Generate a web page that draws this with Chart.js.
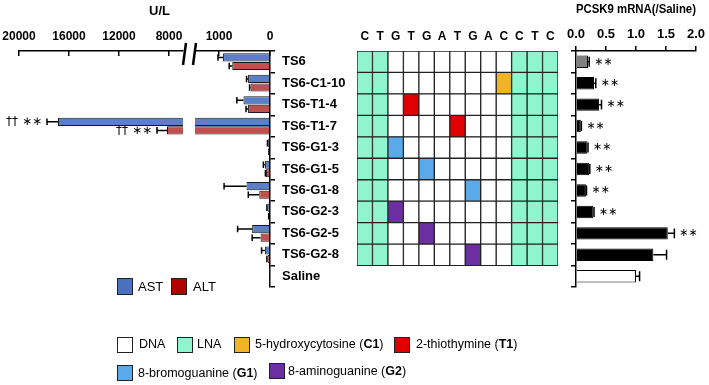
<!DOCTYPE html>
<html>
<head>
<meta charset="utf-8">
<script src="https://cdn.jsdelivr.net/npm/chart.js@4.4.1/dist/chart.umd.min.js"></script>
<style>
  html, body { margin: 0; padding: 0; background: #fff; }
  #wrap { position: relative; width: 709px; height: 385px; overflow: hidden; font-family: "Liberation Sans", Arial, sans-serif; }
  canvas { position: absolute; top: 0; }
  .txt { position: absolute; white-space: nowrap; color: #000; }
  .box { position: absolute; box-sizing: border-box; border: 1.5px solid #222; }
  .lg2 { font-size: 12.5px; line-height: 15px; }
</style>
</head>
<body>
<div id="wrap">
  <canvas id="liverFar" width="192" height="385" style="left:0px"></canvas>
  <canvas id="liverNear" width="175" height="385" style="left:185px"></canvas>
  <canvas id="seqGrid" width="215" height="385" style="left:350px"></canvas>
  <canvas id="mrna" width="149" height="385" style="left:560px"></canvas>

  <div class="txt" style="left:149px;top:3px;font-weight:bold;font-size:13px">U/L</div>

  <!-- AST / ALT -->
  <div class="box" style="left:117px;top:278px;width:16px;height:17px;background:#4a70c0"></div>
  <div class="txt" style="left:138px;top:279px;font-size:13px">AST</div>
  <div class="box" style="left:171px;top:278px;width:16px;height:17px;background:#b00000"></div>
  <div class="txt" style="left:193px;top:279px;font-size:13px">ALT</div>

  <!-- nucleotide legend -->
  <div class="box" style="left:117px;top:337px;width:16px;height:16px;background:#ffffff"></div>
  <div class="txt lg2" style="left:139px;top:337px">DNA</div>
  <div class="box" style="left:177px;top:337px;width:16px;height:16px;background:#8ef5ce"></div>
  <div class="txt lg2" style="left:197px;top:337px">LNA</div>
  <div class="box" style="left:234px;top:337px;width:16px;height:16px;background:#f0b429"></div>
  <div class="txt lg2" style="left:255px;top:337px">5-hydroxycytosine (<b>C1</b>)</div>
  <div class="box" style="left:394px;top:337px;width:16px;height:16px;background:#e00000"></div>
  <div class="txt lg2" style="left:416px;top:337px">2-thiothymine (<b>T1</b>)</div>
  <div class="box" style="left:117px;top:365px;width:16px;height:16px;background:#5aaaea"></div>
  <div class="txt lg2" style="left:138px;top:366px">8-bromoguanine (<b>G1</b>)</div>
  <div class="box" style="left:269px;top:363px;width:16px;height:16px;background:#6b2fa0"></div>
  <div class="txt lg2" style="left:288px;top:364px">8-aminoguanine (<b>G2</b>)</div>
</div>

<script>
// rows (top to bottom)
const rowLabels = ['TS6', 'TS6-C1-10', 'TS6-T1-4', 'TS6-T1-7', 'TS6-G1-3', 'TS6-G1-5',
                   'TS6-G1-8', 'TS6-G2-3', 'TS6-G2-5', 'TS6-G2-8', 'Saline'];

// liver enzymes, U/L
const astMean = [920, 430, 520, 16880, 40, 100, 460, 50, 350, 100, 5];
const astErr  = [100, 30, 130, 880, 10, 30, 440, 10, 285, 65, 0];
const altMean = [740, 380, 430, 8160, 15, 80, 210, 20, 185, 45, 5];
const altErr  = [60, 20, 40, 800, 5, 10, 215, 5, 165, 15, 0];
const astNote = ['', '', '', '†† ∗∗', '', '', '', '', '', '', ''];
const altNote = ['', '', '', '†† ∗∗', '', '', '', '', '', '', ''];

// PCSK9 mRNA relative to saline
const mrnaMean = [0.20, 0.30, 0.385, 0.08, 0.19, 0.22, 0.165, 0.29, 1.53, 1.29, 1.00];
const mrnaErr  = [0.02, 0.03, 0.04, 0.01, 0.01, 0.01, 0.01, 0.01, 0.11, 0.22, 0.06];
const mrnaNote = ['∗∗', '∗∗', '∗∗', '∗∗', '∗∗', '∗∗', '∗∗', '∗∗', '∗∗', '', ''];

// sequence grid
const sequence = ['C', 'T', 'G', 'T', 'G', 'A', 'T', 'G', 'A', 'C', 'C', 'T', 'C'];
const lnaColumns = [1, 2, 11, 12, 13];
const modColumn = [0, 10, 4, 7, 3, 5, 8, 3, 5, 8];   // 1-based, 0 = none
const modType   = ['', 'C1', 'T1', 'T1', 'G1', 'G1', 'G1', 'G2', 'G2', 'G2'];

const cellColors = { DNA: '#ffffff', LNA: '#8ef5ce', C1: '#f0b429', T1: '#e00000', G1: '#5aaaea', G2: '#6b2fa0' };

Chart.defaults.font.family = '"Liberation Sans", Arial, sans-serif';
Chart.defaults.color = '#000';
Chart.defaults.animation = false;

const AREA_TOP = 51, PAD_BOTTOM = 98;
const fixHeight = h => s => { s.height = h; };
const fixWidth = w => s => { s.width = w; };

function errorBars(errs, notes, font, gap) {
  return {
    id: 'errorBars',
    afterDatasetsDraw(chart) {
      const ctx = chart.ctx, xs = chart.scales.x, a = chart.chartArea;
      ctx.save();
      chart.data.datasets.forEach((ds, d) => {
        chart.getDatasetMeta(d).data.forEach((bar, i) => {
          const v = ds.data[i];
          if (v == null) return;
          const e = errs[d][i];
          const p0 = xs.getPixelForValue(v), p1 = xs.getPixelForValue(v + e);
          if (Math.min(p0, p1) < a.left - 1 || Math.max(p0, p1) > a.right + 1) return;
          const dir = Math.sign(p0 - xs.getPixelForValue(0)) || 1;
          const h = bar.height * 0.4;
          ctx.strokeStyle = '#000';
          ctx.lineWidth = 1.5;
          if (e > 0) {
            ctx.beginPath();
            ctx.moveTo(p0, bar.y); ctx.lineTo(p1, bar.y);
            ctx.moveTo(p1, bar.y - h); ctx.lineTo(p1, bar.y + h);
            ctx.stroke();
          }
          const note = notes[d][i];
          if (note) {
            ctx.fillStyle = '#000';
            ctx.font = font;
            ctx.textBaseline = 'middle';
            ctx.textAlign = dir < 0 ? 'right' : 'left';
            ctx.fillText(note, p1 + dir * gap, bar.y);
          }
        });
      });
      ctx.restore();
    }
  };
}

function breakMark(side) {
  return {
    id: 'breakMark',
    afterDraw(chart) {
      const ctx = chart.ctx, a = chart.chartArea;
      const x = side === 'right' ? a.right + 1 : a.left - 1;
      ctx.save();
      ctx.strokeStyle = '#000';
      ctx.lineWidth = 2.5;
      ctx.beginPath();
      ctx.moveTo(x + 2, a.top - 8);
      ctx.lineTo(x - 1, a.top + 14);
      ctx.stroke();
      ctx.restore();
    }
  };
}

const enzymeDatasets = () => [
  { label: 'AST', data: astMean, backgroundColor: '#5b80c8', borderColor: '#1a1a1a', borderWidth: 1 },
  { label: 'ALT', data: altMean, backgroundColor: '#c0504d', borderColor: '#1a1a1a', borderWidth: 1 }
];

const tickFont = { weight: 'bold', size: 12 };
// tick marks point into the plot (negative length), labels pushed back up
const inwardGrid = { drawOnChartArea: false, tickLength: -5, color: '#000', lineWidth: 1.5 };

// left (broken) part of the U/L axis
new Chart(document.getElementById('liverFar'), {
  type: 'bar',
  data: { labels: rowLabels, datasets: enzymeDatasets() },
  options: {
    responsive: false,
    indexAxis: 'y',
    layout: { padding: { left: 19, right: 9, top: 0, bottom: PAD_BOTTOM } },
    datasets: { bar: { categoryPercentage: 0.8, barPercentage: 0.95, clip: 0 } },
    plugins: { legend: { display: false }, tooltip: { enabled: false } },
    scales: {
      x: {
        position: 'top', reverse: true, min: 6880, max: 20000,
        afterBuildTicks: s => { s.ticks = [8000, 12000, 16000, 20000].map(v => ({ value: v })); },
        afterFit: fixHeight(AREA_TOP),
        ticks: { font: tickFont, padding: 12, callback: v => v, maxRotation: 0 },
        grid: inwardGrid,
        border: { color: '#000', width: 1.5 }
      },
      y: { display: false }
    }
  },
  plugins: [errorBars([astErr, altErr], [astNote, altNote], '12px "DejaVu Sans"', 5), breakMark('right')]
});

// right (near zero) part of the U/L axis, with row names
new Chart(document.getElementById('liverNear'), {
  type: 'bar',
  data: { labels: rowLabels, datasets: enzymeDatasets() },
  options: {
    responsive: false,
    indexAxis: 'y',
    layout: { padding: { left: 10, right: 0, top: 0, bottom: PAD_BOTTOM } },
    datasets: { bar: { categoryPercentage: 0.8, barPercentage: 0.95, clip: { left: 0, right: 3, top: 3, bottom: 3 } } },
    plugins: { legend: { display: false }, tooltip: { enabled: false } },
    scales: {
      x: {
        position: 'top', reverse: true, min: 0, max: 1470,
        afterBuildTicks: s => { s.ticks = [0, 1000].map(v => ({ value: v })); },
        afterFit: fixHeight(AREA_TOP),
        ticks: { font: tickFont, padding: 12, callback: v => v, maxRotation: 0 },
        grid: inwardGrid,
        border: { color: '#000', width: 1.5 }
      },
      y: {
        position: 'right',
        afterFit: fixWidth(90),
        ticks: { font: { weight: 'bold', size: 13 }, padding: 7 },
        grid: { drawOnChartArea: false, tickLength: 5, color: '#000', lineWidth: 1.5 },
        border: { color: '#000', width: 1.5 }
      }
    }
  },
  plugins: [errorBars([astErr, altErr], [astNote, altNote], '12px "DejaVu Sans"', 5), breakMark('left')]
});

// sequence / modification grid as stacked bars, one dataset per base position
const gridDatasets = sequence.map((base, c) => {
  const col = c + 1;
  const colors = modColumn.map((m, r) => {
    if (m === col) return cellColors[modType[r]];
    return lnaColumns.includes(col) ? cellColors.LNA : cellColors.DNA;
  });
  return {
    label: base,
    data: modColumn.map(() => 1).concat([null]),
    backgroundColor: colors,
    borderColor: '#222',
    borderWidth: 1,
    borderSkipped: false,
    categoryPercentage: 1,
    barPercentage: 1
  };
});

new Chart(document.getElementById('seqGrid'), {
  type: 'bar',
  data: { labels: rowLabels, datasets: gridDatasets },
  options: {
    responsive: false,
    indexAxis: 'y',
    layout: { padding: { left: 7, right: 7, top: 0, bottom: PAD_BOTTOM } },
    plugins: { legend: { display: false }, tooltip: { enabled: false } },
    scales: {
      x: {
        position: 'top', stacked: true, min: 0, max: sequence.length,
        afterBuildTicks: s => { s.ticks = sequence.map((b, i) => ({ value: i + 0.5 })); },
        afterFit: fixHeight(AREA_TOP),
        ticks: { font: { weight: 'bold', size: 12 }, padding: 7, maxRotation: 0, autoSkip: false,
                 callback: (v, i) => sequence[i] },
        grid: { display: false, drawTicks: false },
        border: { display: false }
      },
      y: { display: false, stacked: true }
    }
  }
});

// PCSK9 mRNA
new Chart(document.getElementById('mrna'), {
  type: 'bar',
  data: {
    labels: rowLabels,
    datasets: [{
      label: 'PCSK9 mRNA',
      data: mrnaMean,
      backgroundColor: mrnaMean.map((v, i) => i === 0 ? '#808080' : (i === mrnaMean.length - 1 ? '#ffffff' : '#000000')),
      borderColor: '#000',
      borderWidth: 1,
      categoryPercentage: 1,
      barPercentage: 0.58
    }]
  },
  options: {
    responsive: false,
    indexAxis: 'y',
    layout: { padding: { left: 0, right: 12, top: 0, bottom: PAD_BOTTOM } },
    plugins: { legend: { display: false }, tooltip: { enabled: false } },
    scales: {
      x: {
        position: 'top', min: 0, max: 2,
        afterFit: fixHeight(AREA_TOP),
        title: { display: true, text: 'PCSK9 mRNA(/Saline)', font: { weight: 'bold', size: 12 }, padding: { top: 2, bottom: 4 } },
        ticks: { stepSize: 0.5, font: { weight: 'bold', size: 13 }, padding: 4, maxRotation: 0,
                 callback: v => v.toFixed(1) },
        grid: { drawOnChartArea: false, tickLength: 5, color: '#000', lineWidth: 1.5 },
        border: { color: '#000', width: 1.5 }
      },
      y: {
        position: 'left',
        afterFit: fixWidth(16),
        ticks: { display: false },
        grid: { drawOnChartArea: false, tickLength: 5, color: '#000', lineWidth: 1.5 },
        border: { color: '#000', width: 1.5 }
      }
    }
  },
  plugins: [errorBars([mrnaErr], [mrnaNote], '11px "DejaVu Sans"', 5)]
});
</script>
</body>
</html>
